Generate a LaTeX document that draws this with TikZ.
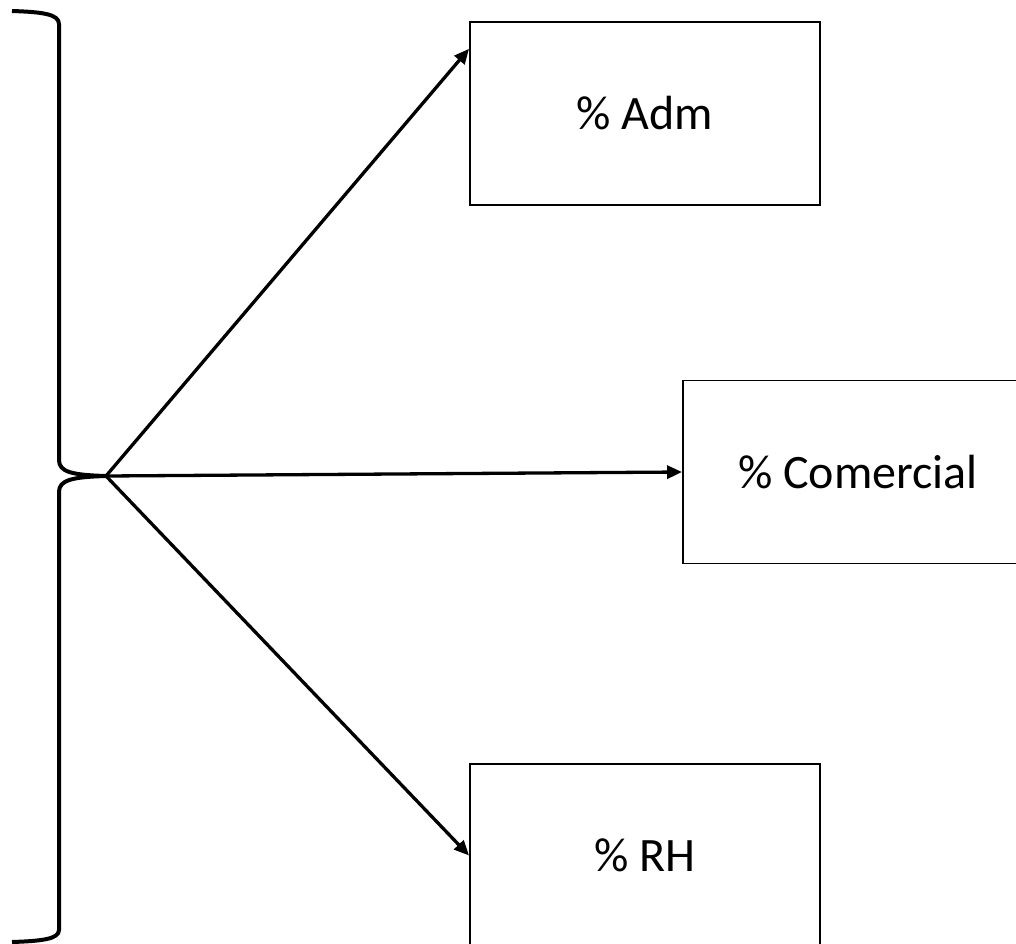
\documentclass[tikz,border=0pt]{standalone}
\usepackage{fontspec}
\setmainfont{Carlito}
\usetikzlibrary{arrows.meta}
\usetikzlibrary{calc}
\tikzset{box/.style={
  draw,line width=1.9pt,
  minimum width=350pt,minimum height=183pt,
  font=\fontsize{48}{56}\selectfont
}}
\tikzset{link/.style={
  line width=3.3pt,
  -{Triangle[length=15pt,width=13pt]}
}}
\tikzset{curly/.style={
  line width=4pt,line join=round
}}

\begin{document}
\begin{tikzpicture}[x=1pt,y=-1pt]
    \useasboundingbox (0,0) rectangle (1016,943);
    \clip (0,0) rectangle (1016,943);
    % Brace
    \draw[curly] (12,11) .. controls (42,12) and (59,14) .. (59,24)
      -- (59,460) .. controls (59,472) and (72,475) .. (106,476)
      .. controls (72,477) and (59,480) .. (59,492)
      -- (59,930) .. controls (59,939) and (42,941) .. (12,942);
    \coordinate (tip) at (106,476);
    % Boxes
    \node[box] (adm) at (645,113.5) {\% Adm};
    \node[box] (com) at (858,472) {\% Comercial};
    \node[box] (rh) at (645,855.5) {\% RH};
    % Arrows
    \draw[link] (tip) -- ($(adm.north west)!0.15!(adm.south west)$);
    \draw[link] (tip) -- (com.west);
    \draw[link] (tip) -- (rh.west);
\end{tikzpicture}
\end{document}
